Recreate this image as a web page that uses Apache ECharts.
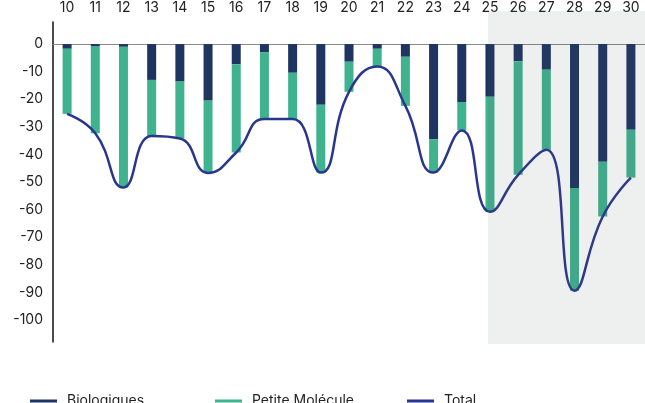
<!DOCTYPE html>
<html>
<head>
<meta charset="utf-8">
<script src="https://cdn.jsdelivr.net/npm/echarts@6/dist/echarts.min.js"></script>
<style>
  html, body { margin: 0; padding: 0; background: #fff; }
  #chart { width: 645px; height: 403px; }
</style>
</head>
<body>
<div id="chart"></div>
<script>
const categories = ['10', '11', '12', '13', '14', '15', '16', '17', '18', '19', '20',
  '21', '22', '23', '24', '25', '26', '27', '28', '29', '30']
const biologiques = [-1.7, -0.9, -1, -13, -13.6, -20.5, -7.3, -3, -10.4, -22, -6.4,
  -1.7, -4.6, -34.5, -21, -19.1, -6.2, -9.3, -52.2, -42.7, -31.1]
const petiteMolecule = [-23.6, -31.4, -51, -20.3, -20.6, -26.2, -32, -24.2, -16.8, -24.6, -10.9,
  -6.4, -17.8, -12.1, -10.3, -41.7, -41.2, -29, -37.2, -19.8, -17.3]
const shadeFrom = '25' // projected years, grey band
const total = biologiques.map((v, i) => +(v + petiteMolecule[i]).toFixed(1))

const font = 'Inter, sans-serif'
const chart = echarts.init(document.getElementById('chart'))

function legendAt(name, left) {
  return {
    data: [name],
    left: left,
    top: 389,
    icon: 'rect',
    itemWidth: 27,
    itemHeight: 3,
    textStyle: { fontFamily: font, fontSize: 14, color: '#222', padding: [0, 0, 0, 5] }
  }
}

chart.setOption({
  animation: false,
  grid: { left: 53, right: 0, top: 22, bottom: 61, containLabel: false },
  legend: [
    legendAt('Biologiques', 25),
    legendAt('Petite Molécule', 210),
    legendAt('Total', 402)
  ],
  xAxis: {
    type: 'category',
    position: 'top',
    data: categories,
    axisLine: { onZero: true, lineStyle: { color: '#8a8a8a', width: 1 } },
    axisTick: { show: false },
    axisLabel: { fontFamily: font, fontSize: 14, color: '#222', margin: 7 }
  },
  yAxis: {
    type: 'value',
    min: -108,
    max: 8,
    splitNumber: 12,
    axisLine: { show: true, lineStyle: { color: '#111', width: 1.5 } },
    axisTick: { show: false },
    splitLine: { show: false },
    axisLabel: {
      fontFamily: font, fontSize: 14, color: '#222', margin: 10,
      formatter: v => (v % 10 === 0 && v <= 0 && v >= -100) ? String(v) : ''
    }
  },
  series: [
    {
      name: 'Biologiques',
      type: 'bar',
      stack: 'tot',
      barWidth: 9,
      color: '#1e3461',
      data: biologiques
    },
    {
      name: 'Petite Molécule',
      type: 'bar',
      stack: 'tot',
      barWidth: 9,
      color: '#3fb28e',
      data: petiteMolecule
    },
    {
      name: 'Total',
      type: 'line',
      smooth: 0.5,
      symbol: 'none',
      color: '#29368f',
      lineStyle: { width: 2.5, color: '#29368f' },
      z: 5,
      data: total
    }
  ]
})

// grey band over the last years, placed from the axes
const x0 = chart.convertToPixel({ xAxisIndex: 0 }, shadeFrom)
const y0 = chart.convertToPixel({ yAxisIndex: 0 }, 12)
const y1 = chart.convertToPixel({ yAxisIndex: 0 }, -108) + 2
chart.setOption({
  graphic: [{
    type: 'rect',
    silent: true,
    z: 100,
    shape: { x: x0 - 2, y: y0, width: 645 - x0 + 2, height: y1 - y0 },
    style: { fill: 'rgba(85,100,100,0.1)' }
  }]
})
</script>
</body>
</html>
